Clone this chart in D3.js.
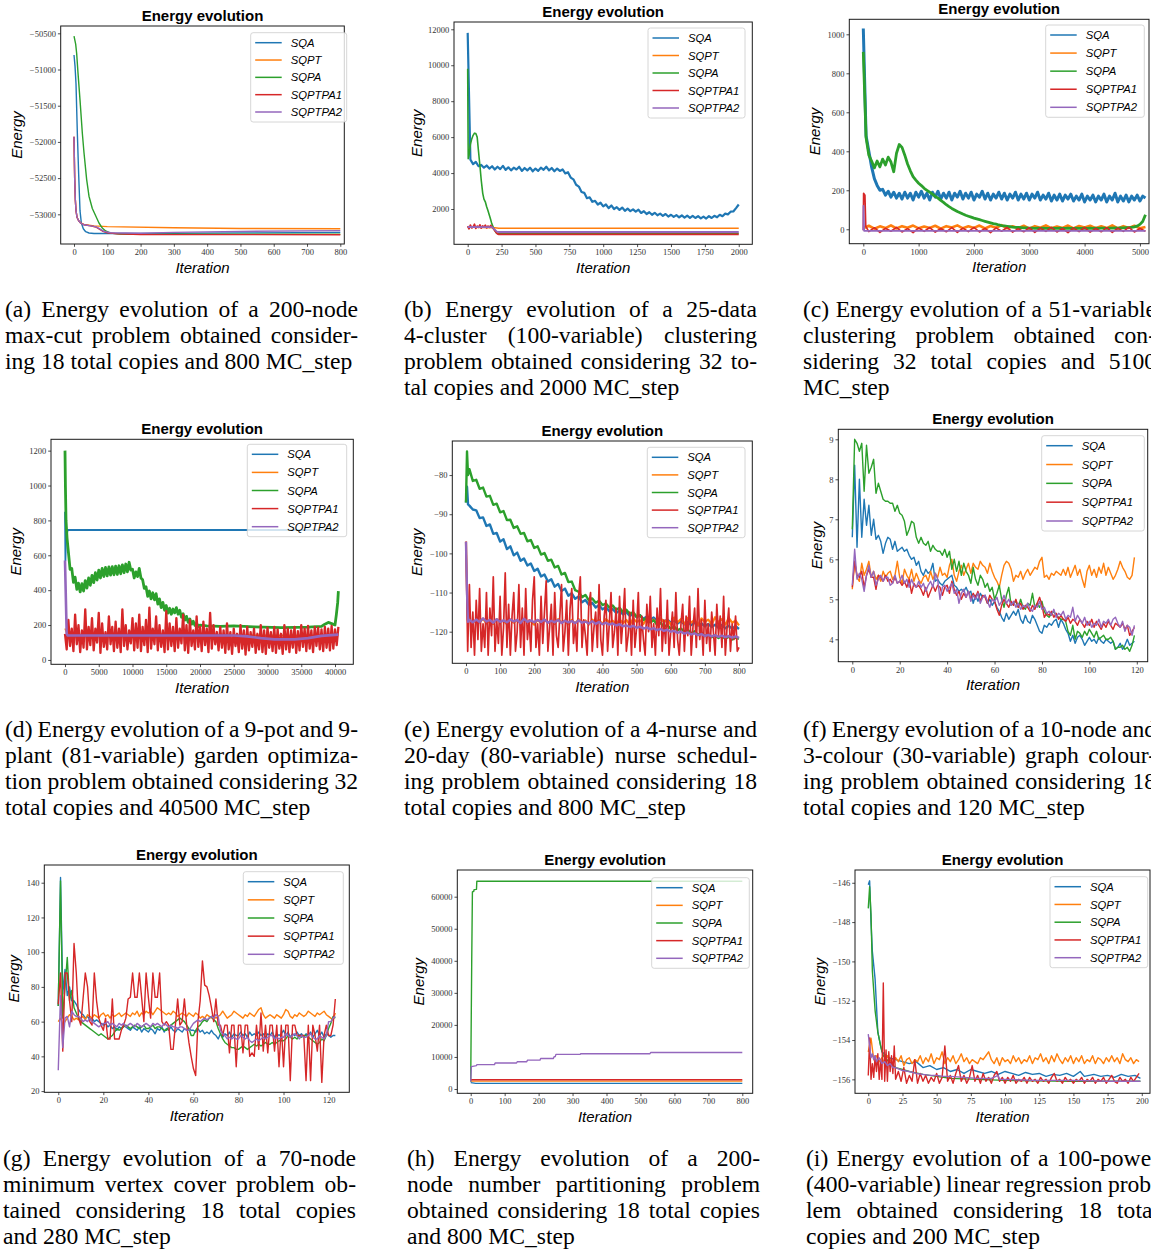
<!DOCTYPE html>
<html>
<head>
<meta charset="utf-8">
<script src="https://cdn.jsdelivr.net/npm/d3@7"></script>
<style>
  html, body { margin: 0; padding: 0; background: #fff; overflow: hidden; }
  svg { display: block; }
  .tick text { font-family: "Liberation Serif", "Times New Roman", serif; font-size: 8.5px; fill: #333; }
  .tick line { stroke: #222; stroke-width: 0.8; }
  .ttl { font-family: "Liberation Sans", Arial, sans-serif; font-weight: bold; font-size: 15px; fill: #000; }
  .lab { font-family: "Liberation Sans", Arial, sans-serif; font-style: italic; font-size: 15px; fill: #000; }
  .leg { font-family: "Liberation Sans", Arial, sans-serif; font-style: italic; font-size: 11.3px; fill: #000; }
  .cap { font-family: "Liberation Serif", "Times New Roman", serif; font-size: 23.6px; fill: #000; }
</style>
</head>
<body>
<svg id="fig" width="1151" height="1252"></svg>
<script>
const SERIES = ['SQA', 'SQPT', 'SQPA', 'SQPTPA1', 'SQPTPA2']
const COLORS = ['#1f77b4', '#ff7f0e', '#2ca02c', '#d62728', '#9467bd']

// typed values placed at their iteration: start, start+step, ...
function strided(start, step, ys) {
    return ys.map((v, i) => [start + i * step, v])
}

// ---------- (a) max-cut ----------
const aXTicks = [0, 100, 200, 300, 400, 500, 600, 700, 800]
const aYTicks = [-53000, -52500, -52000, -51500, -51000, -50500]
const aSQA = [[0,-50800],[3,-50950],[6,-51200],[10,-51880],[14,-52450],[18,-52950],[22,-53120],[28,-53200],[35,-53240],[45,-53258],[60,-53265],[200,-53265],[500,-53257],[800,-53250]]
const aSQPT = [[0,-51930],[2,-52500],[4,-52800],[6,-52950],[9,-53040],[14,-53090],[20,-53120],[30,-53140],[60,-53160],[100,-53170],[300,-53185],[500,-53195],[800,-53200]]
const aSQPA = [[0,-50540],[5,-50650],[8,-50780],[12,-51050],[18,-51420],[25,-51880],[30,-52150],[38,-52520],[45,-52750],[55,-52920],[65,-53020],[75,-53120],[85,-53190],[95,-53230],[110,-53260],[140,-53272],[200,-53276],[800,-53276]]
const aSQPTPA1 = [[0,-51930],[2,-52500],[4,-52800],[6,-52950],[9,-53040],[14,-53090],[20,-53120],[30,-53145],[50,-53160],[65,-53175],[75,-53200],[85,-53230],[100,-53255],[130,-53270],[200,-53278],[800,-53282]]
const aSQPTPA2 = [[0,-51930],[2,-52500],[4,-52800],[6,-52950],[9,-53040],[14,-53090],[20,-53120],[30,-53145],[50,-53160],[65,-53170],[75,-53195],[90,-53235],[110,-53255],[200,-53262],[300,-53250],[500,-53235],[800,-53225]]

// ---------- (b) clustering 25-data ----------
const bXTicks = [0, 250, 500, 750, 1000, 1250, 1500, 1750, 2000]
const bYTicks = [2000, 4000, 6000, 8000, 10000, 12000]
const bSQA = [11800,4750,4500,4620,4380,4450,4300,4420,4250,4380,
    4200,4350,4220,4400,4180,4320,4150,4300,4200,4350,
    4120,4280,4150,4300,4100,4250,4120,4300,4180,4350,
    4150,4280,4100,4250,4120,4200,3980,4050,3750,3650,
    3350,3250,2950,2900,2600,2650,2400,2450,2250,2350,
    2150,2250,2050,2200,2000,2100,1950,2080,1900,2020,
    1880,1980,1850,1960,1780,1880,1720,1820,1680,1790,
    1650,1740,1620,1720,1580,1680,1560,1660,1540,1640,
    1520,1630,1510,1620,1500,1600,1480,1580,1470,1600,
    1500,1620,1540,1680,1600,1740,1700,1850,1860,2050,
    2250]
const bSQPT = [[0,1000],[100,980],[200,960],[230,930],[2000,930]]
const bSQPA = [[0,9800],[2,7000],[4,4800],[10,5000],[20,5600],[30,5900],[40,6100],[50,6220],[60,6200],[70,6000],[80,5200],[91,4350],[100,3600],[111,2870],[120,2550],[130,2400],[140,2130],[150,1900],[160,1650],[170,1400],[177,1200],[190,950],[200,800],[214,650],[230,640],[2000,640]]
const bSQPTPA1 = [[0,1050],[10,900],[20,1100],[30,950],[40,1000],[50,1150],[60,920],[70,1050],[80,980],[90,1120],[100,940],[110,1060],[120,990],[130,1100],[140,950],[150,1050],[160,980],[170,1080],[180,1000],[190,900],[200,800],[210,700],[220,620],[230,590],[2000,590]]
const bSQPTPA2 = [[0,1000],[180,990],[200,850],[215,740],[230,720],[2000,720]]

// ---------- (c) clustering 51-variable ----------
const cXTicks = [0, 1000, 2000, 3000, 4000, 5000]
const cYTicks = [0, 200, 400, 600, 800, 1000]
const cSQA = [1030,480,400,320,260,225,200,205,175,195,
    165,190,160,185,155,190,160,185,150,190,
    165,195,160,185,150,190,165,195,155,185,
    160,190,150,185,165,195,155,185,160,190,
    150,180,165,195,155,185,150,180,160,190,
    155,185,150,180,160,190,150,180,155,185,
    150,180,160,190,150,175,155,185,145,175,
    150,180,145,175,155,180,145,170,150,180,
    140,170,150,175,140,170,150,180,140,170,
    150,185,140,170,145,175,140,170,150,175,
    145,170,160]
const cSQPT = [5,18,3,15,6,20,4,16,8,19,
    5,14,7,18,3,16,9,20,5,15,
    7,19,4,17,8,21,5,15,6,18,
    3,16,8,20,5,14,7,19,4,17,
    9,18,5,15,6,20,4,16,7,18,
    5,12]
const cSQPA = [910,470,380,350,315,350,320,360,330,370,
    345,295,390,435,420,380,335,300,270,252,
    236,224,210,200,190,180,169,160,148,138,
    126,116,107,99,91,85,78,72,67,62,
    57,53,49,45,41,37,33,29,26,22,
    19,17,15,13,11,10,9,8,7,7,
    6,6,5,6,5,6,5,5,6,5,
    5,6,5,5,6,5,5,6,5,5,
    6,5,6,5,6,5,6,6,5,6,
    6,7,6,7,7,8,8,10,12,16,
    25,40,75]
const cSQPTPA1Head = [[0,-5],[5,185],[30,175],[45,15]]
const cSQPTPA1 = [-12,8,-16,5,-10,10,-14,3,-17,7,
    -11,9,-15,4,-13,8,-16,6,-12,10,
    -14,5,-17,7,-10,9,-15,3,-13,8,
    -16,6,-11,10,-14,4,-17,7,-12,9,
    -15,5,-13,8,-16,6,-11,10,-14,4,
    -10]
const cSQPTPA2 = [[0,-5],[3,120],[8,60],[15,-8],[5100,-8]]

// ---------- (d) garden optimization ----------
const dXTicks = [0, 5000, 10000, 15000, 20000, 25000, 30000, 35000, 40000]
const dYTicks = [0, 200, 400, 600, 800, 1000, 1200]
const dSQA = [[0,850],[60,570],[150,700],[400,745],[40500,745]]
const dSQPT = [[0,180],[300,145],[40500,140]]
const dSQPAHead = [[0,1200],[60,1000],[150,800],[300,700]]
const dSQPABand = [620,520,525,445,475,405,440,390,437,395,
    455,412,470,428,485,443,500,458,515,470,
    525,478,530,482,533,486,535,488,538,490,
    540,494,545,500,550,505,560,515,520,470,
    505,478,525,470,460,410,420,365,395,350,
    385,345,380,320,350,300,330,285,312,268,
    296,262,292,270,300,262,285,245,265,228,
    250,215,235,205,222,198,210,192,200]
const dSQPATail = [[21000,195],[23000,193],[25000,195],[28000,190],[32000,185],[36000,188],[38000,192],[38500,205],[39000,215],[39500,208],[40000,200],[40200,260],[40400,330],[40500,395]]
const dSQPTPA1 = [150,60,230,80,180,50,260,90,200,45,
    170,70,290,60,190,85,240,55,180,100,
    270,40,210,75,160,60,250,90,190,50,
    220,70,180,45,290,80,200,60,170,95,
    240,55,210,70,260,50,190,85,230,45,
    300,65,180,90,250,55,200,75,170,45,
    280,60,210,80,190,50,240,70,180,95,
    260,55,200,40,230,80,170,60,250,75,
    190,50,220,85,180,45,270,65,200,90,
    160,55,190,70,170,40,210,60,160,35,
    180,80,150,45,200,65,170,30,190,55,
    160,75,180,40,150,60,200,45,170,35,
    185,70,160,50,190,40,175,65,150,35,
    200,60,180,45,170,70,190,40,165,55,
    200,75,180,50,195,65,170,45,190,80,
    185,60,175,50,190,70,180,55,195,65,
    175,85,190]
const dSQPTPA2 = [[0,570],[100,400],[250,150],[400,140],[25000,140],[27000,135],[29000,125],[31000,118],[34000,118],[36000,125],[38000,138],[40500,145]]

// ---------- (e) nurse scheduling ----------
const eXTicks = [0, 100, 200, 300, 400, 500, 600, 700, 800]
const eYTicks = [-120, -110, -100, -90, -80]
const eSQAHead = [[0,-87],[3,-83],[6,-87.5]]
const eSQA = [-87.8,-88.8,-89,-91,-90.8,-93,-92.6,-95,-94.8,-97,
    -96.4,-98.9,-98.2,-100.5,-99.8,-101.9,-101.3,-103.1,-102.6,-104.5,
    -103.9,-105.9,-105.4,-107.2,-106.6,-108.5,-107.8,-109.6,-109,-110.8,
    -110.2,-111.6,-111,-112.5,-111.9,-113.1,-112.6,-113.8,-113.2,-114.3,
    -113.7,-114.8,-114.2,-115.2,-114.6,-115.6,-115,-116,-115.4,-116.3,
    -115.8,-116.7,-116.1,-117,-116.4,-117.2,-116.7,-117.5,-116.9,-117.7,
    -117.1,-117.9,-117.3,-118.1,-117.5,-118.3,-117.7,-118.4,-117.9,-118.6,
    -118,-118.8,-118.2,-119,-118.3,-119.1,-118.5,-119.2,-118.6,-119.3]
const eSQPTHead = [[0,-97],[5,-117]]
const eSQPT = [-117,-117.8,-116.9,-117.6,-116.7,-117.9,-117.1,-118,-116.8,-117.5,
    -117.2,-118.1,-116.9,-117.7,-117,-118,-116.8,-117.6,-117.3,-118.2,
    -117,-117.8,-116.9,-117.7,-117.1,-118,-116.8,-117.6,-117.2,-118.1,
    -117,-117.9,-116.8,-117.6,-117.1,-118.2,-116.9,-117.7,-117,-118,
    -116.8,-117.6,-117.2,-118.1,-116.9,-117.8,-117,-118.2,-116.7,-117.5,
    -117.1,-118,-116.5,-117.6,-116.9,-118.1,-116.6,-117.5,-117,-118.2,
    -116.4,-117.6,-116.8,-118,-116.5,-117.7,-117,-118.3,-116.6,-117.5,
    -116.9,-118.1,-116.3,-117.6,-116.8,-118.2,-116.5,-117.7,-117.2,-118.4]
const eSQPAHead = [[0,-87],[3,-74],[6,-80]]
const eSQPA = [-78.5,-81.5,-81.2,-83.5,-83.2,-85.5,-85.3,-87.6,-87.3,-89.5,
    -89.2,-91.5,-91.4,-93.5,-93.1,-95,-94.8,-96.9,-96.6,-98.6,
    -98.2,-100.3,-99.9,-101.9,-101.6,-103.6,-103.2,-105.4,-105,-107.3,
    -107.2,-109.4,-109.8,-111.2,-110.6,-112,-111.5,-112.6,-112.1,-113.2,
    -112.8,-113.8,-113.3,-114.4,-113.9,-115,-114.4,-115.5,-115,-116.2,
    -115.8,-117,-116.5,-117.6,-117.1,-118.2,-117.7,-118.7,-118.3,-119.2,
    -118.7,-119.6,-119.2,-120,-119.5,-120.4,-119.9,-120.8,-120.3,-121.1,
    -120.7,-121.4,-120.9,-121.6,-121.1,-121.8,-121.3,-122,-121.5,-121.8]
const eSQPTPA1 = [-97,-125,-108,-124,-115,-126,-112,-122,-109,-125,
    -118,-124,-110,-126,-114,-121,-106,-125,-117,-123,
    -111,-126,-119,-105,-124,-113,-126,-116,-110,-125,
    -120,-108,-124,-114,-126,-109,-122,-117,-125,-112,
    -106,-124,-118,-126,-111,-123,-115,-107,-125,-119,
    -113,-126,-110,-121,-124,-116,-108,-125,-120,-112,
    -126,-114,-109,-123,-118,-125,-111,-106,-124,-117,
    -121,-126,-113,-110,-125,-119,-115,-124,-108,-122,
    -126,-116,-112,-125,-118,-110,-124,-120,-114,-126,
    -111,-123,-117,-109,-125,-121,-115,-126,-112,-124,
    -119,-110,-125,-116,-122,-126,-113,-120,-111,-124,
    -118,-126,-114,-121,-109,-125,-117,-123,-112,-126,
    -120,-115,-124,-110,-122,-126,-118,-113,-125,-116,
    -121,-111,-126,-119,-114,-124,-109,-122,-117,-126,
    -112,-123,-118,-125,-115,-120,-126,-113,-121,-116,
    -124,-111,-126,-119,-114,-125,-118,-122,-116,-125,
    -124]
const eSQPTPA2Head = [[0,-97],[3,-110],[6,-117.5]]
const eSQPTPA2 = [-117,-117.6,-116.9,-117.5,-116.6,-117.4,-117,-117.7,-116.8,-117.5,
    -117.1,-117.6,-116.9,-117.4,-117,-117.8,-116.7,-117.5,-117.1,-117.6,
    -117,-117.5,-116.9,-117.7,-117.2,-117.6,-117,-117.8,-117.2,-117.6,
    -117.3,-117.8,-117.1,-117.7,-117.4,-117.9,-117.3,-118,-117.5,-118.1,
    -117.7,-118.2,-117.9,-118.4,-118.1,-118.6,-118.4,-118.8,-118.5,-119,
    -118.7,-119.2,-118.9,-119.4,-119.1,-119.6,-119.3,-119.8,-119.5,-120,
    -119.8,-120.3,-120,-120.5,-120.2,-120.7,-120.4,-120.9,-120.6,-121.1,
    -120.8,-121.2,-120.9,-121.3,-121,-121.4,-121.1,-121.5,-121.2,-121.6]

// ---------- (f) graph colouring ----------
const fXTicks = [0, 20, 40, 60, 80, 100, 120]
const fYTicks = [4, 5, 6, 7, 8, 9]
const fSQA = [6.55,8.35,6.3,8.0,6.55,7.5,6.85,7.35,6.6,7.0,
    6.5,6.6,6.45,6.15,6.4,6.55,6.5,6.25,6.45,6.2,
    6.25,6.3,6.2,6.25,6.1,6.0,6.05,5.85,5.95,5.7,
    5.6,5.75,5.65,5.7,5.9,5.45,5.5,5.4,5.35,5.45,
    5.5,5.55,5.6,5.35,5.3,5.2,5.25,5.2,5.3,5.15,
    5.2,4.9,5.1,4.95,5.15,5.05,5.1,4.9,5.0,4.85,
    4.95,4.8,4.7,4.55,4.45,4.65,4.5,4.6,4.7,4.6,
    4.75,4.5,4.4,4.6,4.45,4.4,4.6,4.5,4.35,4.2,
    4.15,4.35,4.3,4.4,4.35,4.45,4.5,4.3,4.5,4.4,
    4.25,4.15,3.95,4.1,3.9,4.05,4.1,4.0,3.85,3.95,
    4.05,3.95,4.0,3.9,4.05,3.95,3.9,4.0,3.95,3.9,
    3.95,3.75,3.8,3.9,3.75,3.85,4.0,3.85,3.9,3.95]
const fSQPT = [5.25,5.95,5.55,5.45,5.9,5.6,5.75,5.95,5.55,5.7,
    5.5,5.6,5.45,5.7,5.55,5.65,5.7,5.5,5.6,5.95,
    5.55,5.4,5.75,5.6,5.5,5.75,5.45,5.65,5.5,5.4,
    5.55,5.6,5.45,5.7,5.5,5.65,5.55,5.8,5.6,5.65,
    5.55,5.85,6.0,5.6,5.45,5.7,5.85,5.6,5.75,5.9,
    5.65,5.9,5.8,5.75,5.95,5.85,5.8,5.65,5.9,5.7,
    5.55,5.45,5.3,5.6,5.85,5.95,5.9,5.75,5.45,5.6,
    5.55,5.7,5.5,5.65,5.75,5.6,5.7,5.8,5.75,5.95,
    6.05,5.55,5.6,5.5,5.65,5.6,5.7,5.65,5.6,5.75,
    5.6,5.8,5.55,5.7,5.85,5.6,5.75,5.5,5.3,5.7,
    5.85,5.6,5.75,5.55,5.8,5.65,5.9,5.6,5.8,5.65,
    5.5,5.6,5.75,5.95,5.8,5.7,5.55,5.5,5.6,6.05]
const fSQPA = [6.75,9.0,8.9,8.7,8.9,7.7,8.85,8.15,8.3,8.5,
    7.65,7.9,7.7,7.5,7.45,7.45,7.4,7.4,7.2,7.35,
    7.15,7.1,6.95,6.6,6.75,6.95,6.9,6.55,6.4,6.55,
    6.4,6.35,6.45,6.2,6.35,6.25,6.2,6.2,6.1,6.25,
    6.05,6.2,5.75,6.0,5.7,5.95,5.6,5.9,5.7,5.6,
    5.4,5.8,5.5,5.35,5.6,5.5,5.3,5.4,5.2,5.3,
    5.0,5.15,5.35,5.0,4.8,5.1,5.3,4.85,4.9,4.95,
    4.8,5.0,4.8,4.75,4.9,4.85,5.15,4.8,4.9,4.8,
    4.95,4.7,4.6,4.55,4.65,4.7,4.6,4.55,4.5,4.5,
    4.45,4.2,4.1,4.35,4.0,4.2,4.15,4.05,4.2,4.1,
    4.25,4.15,4.05,4.2,4.0,4.05,4.1,4.0,4.0,4.05,
    3.95,3.75,3.8,3.8,3.85,3.75,3.8,3.7,3.85,4.1]
const fSQPTPA1 = [5.3,5.95,5.6,5.55,5.7,5.3,5.6,5.75,5.55,5.55,
    5.25,5.6,5.55,5.45,5.6,5.45,5.5,5.4,5.55,5.4,
    5.45,5.35,5.45,5.3,5.5,5.15,5.4,5.3,5.35,5.25,
    5.1,5.3,5.05,5.2,5.35,5.2,5.35,5.3,5.1,5.3,
    5.35,5.15,5.45,5.25,5.1,5.2,5.0,5.15,5.05,5.2,
    5.0,5.15,5.05,5.2,4.95,5.1,5.05,4.9,5.1,5.0,
    4.95,4.75,4.6,4.85,5.0,4.9,4.8,4.95,4.85,5.0,
    4.8,4.9,4.75,4.85,4.8,4.7,4.85,4.75,4.9,5.05,
    4.85,4.55,4.65,4.6,4.7,4.55,4.65,4.5,4.6,4.5,
    4.45,4.55,4.4,4.5,4.45,4.35,4.5,4.4,4.3,4.45,
    4.35,4.5,4.3,4.45,4.35,4.25,4.4,4.3,4.45,4.35,
    4.25,4.4,4.35,4.3,4.4,4.25,4.35,4.1,4.2,4.3]
const fSQPTPA2 = [5.35,6.25,5.5,5.65,5.5,5.2,5.6,5.85,5.55,5.7,
    5.35,5.5,5.6,5.45,5.55,5.55,5.35,5.4,5.6,5.4,
    5.45,5.6,5.4,5.5,5.3,5.5,5.35,5.3,5.45,5.3,
    5.4,5.2,5.35,5.45,5.3,5.65,5.5,5.0,5.3,5.35,
    5.2,5.3,5.4,5.15,5.25,4.9,5.15,5.25,5.05,5.2,
    4.95,5.1,5.0,5.15,4.9,5.05,5.1,4.95,4.8,5.0,
    4.95,5.05,4.85,4.95,5.1,4.9,5.0,4.85,4.95,4.8,
    4.9,4.75,4.85,4.8,4.9,4.75,4.7,4.85,4.8,4.95,
    4.75,4.8,4.65,4.7,4.6,4.75,4.55,4.65,4.6,4.7,
    4.5,4.6,4.55,4.8,4.45,4.6,4.5,4.4,4.55,4.35,
    4.45,4.3,4.4,4.35,4.5,4.3,4.45,4.4,4.5,4.35,
    4.5,4.55,4.4,4.3,4.45,4.2,4.35,4.3,4.1,4.35]

// ---------- (g) minimum vertex cover ----------
const gXTicks = [0, 20, 40, 60, 80, 100, 120]
const gYTicks = [20, 40, 60, 80, 100, 120, 140]
const gSQA = [69,143,76,90,75,80,72,72,70,67,
    65,64,62,63,61,62,60,61,60,59,
    58,59,57,58,56,57,55,57,56,58,
    57,56,55,57,56,55,57,54,56,55,
    54,56,55,53,56,55,57,54,56,55,
    57,55,54,56,55,54,56,55,56,55,
    55,54,56,54,55,53,54,53,55,53,
    52,50,53,51,53,52,54,51,53,52,
    52,54,52,53,51,54,52,53,52,54,
    52,53,51,53,52,54,51,53,52,53,
    55,52,54,51,53,52,54,52,53,51,
    53,52,54,51,53,55,52,54,51,53,
    52,51,52,52]
const gSQPT = [60,62,58,60,62,64,63,61,62,61,
    62,63,61,64,63,62,64,63,62,64,
    65,63,64,62,64,63,64,65,63,64,
    65,64,63,65,64,66,63,65,64,66,
    65,66,64,66,68,67,66,65,64,65,
    64,66,65,63,64,65,64,63,65,64,
    63,65,64,62,63,62,64,63,62,63,
    62,63,64,66,64,62,63,64,66,65,
    64,63,62,64,63,65,64,63,65,67,
    68,64,62,63,64,63,62,64,63,62,
    64,67,66,63,62,64,63,65,64,63,
    64,66,65,64,63,65,64,65,66,64,
    63,62,61,65]
const gSQPA = [69,141,62,80,97,72,78,68,65,62,
    60,59,58,57,56,55,54,53,52,53,
    52,51,50,51,52,54,56,55,56,57,
    58,57,56,57,58,57,56,57,58,56,
    56,57,58,56,57,57,56,55,55,57,
    58,59,60,61,62,61,60,58,56,52,
    52,55,57,58,60,61,60,62,63,61,
    60,56,53,50,48,47,46,45,45,44,
    44,45,46,45,44,45,46,47,46,47,
    46,47,48,47,47,48,47,48,49,49,
    49,50,52,51,50,51,50,52,51,52,
    52,51,50,49,48,47,48,50,49,52,
    56,59,63,62]
const gSQPTPA1 = [70,88,43,88,88,72,60,105,88,62,
    58,73,88,80,60,58,88,72,62,58,
    55,62,50,50,73,50,50,50,55,58,
    62,73,74,88,74,74,88,74,60,88,
    74,62,88,74,74,88,60,58,60,58,
    44,44,58,73,58,60,73,58,48,40,
    33,29,60,72,95,81,80,75,68,60,
    73,58,58,52,58,58,42,58,58,34,
    58,58,42,58,58,40,42,40,58,44,
    65,43,58,42,58,58,43,58,34,58,
    34,58,58,26,58,58,52,52,52,52,
    26,58,26,58,52,43,58,25,52,58,
    52,52,58,73]
const gSQPTPA2 = [32,75,45,62,63,57,66,64,63,63,
    62,60,61,60,62,60,59,58,57,58,
    59,59,60,58,59,58,57,59,58,59,
    57,58,59,58,57,59,58,57,58,59,
    58,57,59,58,59,58,57,59,58,57,
    58,57,57,56,57,57,56,55,55,57,
    59,60,61,60,61,62,61,62,63,62,
    64,63,55,53,52,50,51,50,51,50,
    50,52,51,50,51,49,48,49,50,49,
    50,51,50,51,52,52,50,51,50,51,
    51,53,52,51,52,53,52,50,52,51,
    51,52,53,51,50,50,52,51,50,52,
    60,60,62,63]

// ---------- (h) number partitioning ----------
const hXTicks = [0, 100, 200, 300, 400, 500, 600, 700, 800]
const hYTicks = [0, 10000, 20000, 30000, 40000, 50000, 60000]
const hSQA = [[0,2000],[15,1750],[800,1750]]
const hSQPT = [[0,2450],[800,2450]]
const hSQPA = [[0,2300],[3,40000],[5,61500],[9,61700],[10,62200],[17,62300],[18,64800],[800,64800]]
const hSQPTPA1 = [[0,2900],[800,2900]]
const hSQPTPA2 = [[0,2300],[2,7000],[17,7300],[18,7600],[70,7600],[72,8100],[135,8100],[137,8500],[165,8500],[167,9000],[204,9000],[206,9500],[243,9500],[246,10100],[249,10100],[251,10800],[322,10800],[324,11000],[528,11000],[530,11400],[800,11400]]

// ---------- (i) linear regression ----------
const iXTicks = [0, 25, 50, 75, 100, 125, 150, 175, 200]
const iYTicks = [-156, -154, -152, -150, -148, -146]
const iSQA = [[0,-146.1],[1,-145.9],[2,-148],[3,-149.5],[5,-150.9],[7,-153.6],[10,-154.6],[15,-154.9],[20,-155],[25,-155.1],[30,-155.2],[35,-155.1],[40,-155.4],[45,-155.3],[50,-155.5],[55,-155.4],[60,-155.6],[65,-155.5],[70,-155.7],[75,-155.5],[80,-155.6],[85,-155.7],[90,-155.6],[95,-155.75],[100,-155.6],[105,-155.7],[110,-155.8],[115,-155.65],[120,-155.75],[125,-155.7],[130,-155.85],[135,-155.75],[140,-155.8],[145,-155.7],[150,-155.85],[155,-155.6],[158,-155.85],[165,-155.75],[170,-155.85],[175,-155.8],[180,-155.9],[185,-155.75],[190,-155.85],[195,-155.8],[199,-155.95]]
const iSQPT = [-154.6,-153.9,-155.0,-154.8,-155.1,-154.9,-155.2,-154.8,-155.0,-155.2,
    -154.9,-155.1,-154.8,-155.3,-155.0,-154.9,-155.2,-155.0,-155.1,-154.8,
    -155.2,-154.9,-155.1,-154.7,-155.2,-154.9,-155.0,-154.6,-155.2,-154.9,
    -155.1,-154.8,-155.2,-155.0,-154.7,-155.1,-154.9,-155.2,-155.0,-155.1,
    -155.2,-154.9,-155.0,-154.8,-154.6,-155.0,-155.2,-154.9,-155.3,-154.9,
    -155.1,-155.0,-155.2,-154.8,-155.1,-154.9,-155.2,-155.0,-155.1,-154.8,
    -155.2,-154.9,-155.0,-154.7,-155.1,-154.9,-155.2,-154.8,-155.1,-154.7,
    -155.0,-155.2,-154.9,-155.1,-154.8,-155.2,-154.9,-155.1,-154.8,-155.2,
    -155.0,-155.1,-154.8,-155.2,-154.9,-155.0,-155.2,-154.9,-155.1,-154.8,
    -155.1,-154.9,-155.2,-154.7,-155.0,-155.1,-154.9,-155.2,-155.0,-155.1]
const iSQPA = [[0,-147.3],[1,-146.2],[2,-147.6],[3,-150.5],[5,-152.5],[7,-153.6],[9,-154.3],[11,-154.8],[15,-155.1],[20,-155.4],[25,-155.5],[30,-155.6],[40,-155.75],[50,-155.85],[60,-155.95],[80,-156],[100,-156.05],[150,-156.1],[199,-156.1]]
const iSQPTPA1Head = [[0,-155.8],[1,-153.9],[2,-156],[3,-155.2],[4,-155.9],[5,-154.8],[6,-155.6],[7,-154.7],[8,-156],[9,-155],[10,-156],[11,-151.1],[12,-156.1],[13,-154.5],[14,-156.1],[15,-154.6],[16,-155.6],[17,-154.8],[18,-155.7],[19,-154.3],[20,-156]]
const iSQPTPA1 = [-155.6,-156.1,-155.4,-156.2,-155.8,-156.1,-155.0,-156.2,-155.7,-156.1,
    -155.8,-156.2,-155.9,-156.1,-155.7,-156.2,-155.9,-154.3,-156.1,-155.8,
    -156.2,-155.7,-155.3,-156.1,-155.8,-156.2,-155.9,-155.3,-156.1,-155.8,
    -156.2,-155.7,-156.1,-155.9,-156.2,-155.8,-155.6,-156.1,-155.9,-156.2,
    -155.9,-156.1,-155.8,-156.2,-156.0,-156.1,-155.9,-156.2,-155.9,-156.1,
    -156.0,-156.2,-155.9,-156.1,-156.0,-156.2,-155.9,-155.7,-156.1,-156.0,
    -156.2,-155.9,-156.1,-156.0,-156.2,-156.0,-156.1,-155.9,-156.2,-156.0,
    -156.1,-155.9,-156.2,-156.0,-156.1,-155.9,-156.2,-156.0,-155.8,-156.1,
    -156.2,-155.9,-156.1,-156.0,-156.2,-155.9,-156.1,-155.9,-155.7]
const iSQPTPA2 = [[0,-153.7],[1,-154.3],[2,-154.9],[3,-154.7],[4,-155],[5,-154.8],[6,-155.1],[8,-154.9],[10,-155.2],[12,-155.1],[14,-155.3],[16,-155.2],[18,-155.4],[20,-155.4],[25,-155.55],[30,-155.6],[35,-155.7],[40,-155.75],[45,-155.8],[50,-155.8],[55,-155.85],[60,-155.85],[70,-155.9],[80,-155.95],[90,-155.95],[95,-155.8],[96,-156],[100,-156],[120,-156.05],[150,-156.05],[175,-156.1],[199,-156.1]]

// ---------- captions ----------
const capA = ["(a) Energy evolution of a 200-node", "max-cut problem obtained consider-", "ing 18 total copies and 800 MC_step"]
const capB = ["(b) Energy evolution of a 25-data", "4-cluster (100-variable) clustering", "problem obtained considering 32 to-", "tal copies and 2000 MC_step"]
const capC = ["(c) Energy evolution of a 51-variable", "clustering problem obtained con-", "sidering 32 total copies and 5100", "MC_step"]
const capD = ["(d) Energy evolution of a 9-pot and 9-", "plant (81-variable) garden optimiza-", "tion problem obtained considering 32", "total copies and 40500 MC_step"]
const capE = ["(e) Energy evolution of a 4-nurse and", "20-day (80-variable) nurse schedul-", "ing problem obtained considering 18", "total copies and 800 MC_step"]
const capF = ["(f) Energy evolution of a 10-node and", "3-colour (30-variable) graph colour-", "ing problem obtained considering 18", "total copies and 120 MC_step"]
const capG = ["(g) Energy evolution of a 70-node", "minimum vertex cover problem ob-", "tained considering 18 total copies", "and 280 MC_step"]
const capH = ["(h) Energy evolution of a 200-", "node number partitioning problem", "obtained considering 18 total copies", "and 800 MC_step"]
const capI = ["(i) Energy evolution of a 100-power", "(400-variable) linear regression prob-", "lem obtained considering 18 total", "copies and 200 MC_step"]

// panel layout: frame = [left, top, right, bottom], legend = [x, y, w, h]
const panels = [
    {frame: [60.7, 26, 344.3, 244], xDom: [-40, 812], yDom: [-53410, -50399], xTicks: aXTicks, yTicks: aYTicks,
     legend: [250.7, 32.7, 96, 89.3], ylab: 44,
     series: [aSQA, aSQPT, aSQPA, aSQPTPA1, aSQPTPA2]},
    {frame: [454, 22, 752.3, 244.3], xDom: [-101, 2100], yDom: [36, 12406], xTicks: bXTicks, yTicks: bYTicks,
     legend: [648, 28, 97, 90], ylab: 37.3, widths: [2.2, 1.6, 1.6, 1.8, 1.8],
     series: [strided(0, 20, bSQA), bSQPT, bSQPA, bSQPTPA1, bSQPTPA2]},
    {frame: [849.3, 19.3, 1149, 243.7], xDom: [-253, 5164], yDom: [-74, 1077], xTicks: cXTicks, yTicks: cYTicks,
     legend: [1045.7, 25, 98.6, 92.3], ylab: 34.3, widths: [3, 2.6, 2.8, 1.6, 1.8],
     series: [strided(0, 50, cSQA), strided(0, 100, cSQPT), strided(0, 50, cSQPA),
              cSQPTPA1Head.concat(strided(100, 100, cSQPTPA1)), cSQPTPA2]},
    {frame: [51, 439.3, 353.3, 664.3], xDom: [-2074, 42711], yDom: [-25, 1265], xTicks: dXTicks, yTicks: dYTicks,
     legend: [247.3, 444.3, 99.4, 92.4], ylab: 35, widths: [1.8, 1.4, 2.8, 2.3, 2.6],
     series: [dSQA, dSQPT, dSQPAHead.concat(strided(500, 250, dSQPABand), dSQPATail), strided(0, 250, dSQPTPA1), dSQPTPA2]},
    {frame: [452.3, 441, 752.3, 663.3], xDom: [-40.1, 839], yDom: [-128.07, -71.3], xTicks: eXTicks, yTicks: eYTicks,
     legend: [647.3, 447.3, 97.7, 90.4], ylab: 35.6, widths: [2.4, 2.2, 2.4, 1.7, 2.4],
     series: [eSQAHead.concat(strided(10, 10, eSQA)), eSQPTHead.concat(strided(10, 10, eSQPT)),
              eSQPAHead.concat(strided(10, 10, eSQPA)), strided(0, 5, eSQPTPA1), eSQPTPA2Head.concat(strided(10, 10, eSQPTPA2))]},
    {frame: [838.3, 429.3, 1147.7, 661.7], xDom: [-5.9, 124.6], yDom: [3.44, 9.25], xTicks: fXTicks, yTicks: fYTicks,
     legend: [1041.7, 435.7, 102.6, 95.3], ylab: 21.7,
     series: [strided(0, 1, fSQA), strided(0, 1, fSQPT), strided(0, 1, fSQPA), strided(0, 1, fSQPTPA1), strided(0, 1, fSQPTPA2)]},
    {frame: [44.3, 865, 349.3, 1092.3], xDom: [-6.2, 129.2], yDom: [19.3, 150.2], xTicks: gXTicks, yTicks: gYTicks,
     legend: [243.3, 871.7, 100, 92.6], ylab: 31,
     series: [strided(0, 1, gSQA), strided(0, 1, gSQPT), strided(0, 1, gSQPA), strided(0, 1, gSQPTPA1), strided(0, 1, gSQPTPA2)]},
    {frame: [457.3, 870, 752.7, 1093.3], xDom: [-39.5, 830.6], yDom: [-1342, 68331], xTicks: hXTicks, yTicks: hYTicks,
     legend: [651.7, 877.7, 97.6, 90.6], ylab: 39,
     series: [hSQA, hSQPT, hSQPA, hSQPTPA1, hSQPTPA2]},
    {frame: [855, 870, 1150, 1093.3], xDom: [-9.7, 206], yDom: [-156.71, -145.35], xTicks: iXTicks, yTicks: iYTicks,
     legend: [1050, 876.7, 97.7, 91], ylab: 35,
     series: [iSQA, strided(0, 2, iSQPT), iSQPA, iSQPTPA1Head.concat(strided(22, 2, iSQPTPA1)), iSQPTPA2]}
]

const captions = [
    {x: 5, y: 316.5, lines: capA}, {x: 404, y: 316.5, lines: capB}, {x: 803, y: 316.5, lines: capC},
    {x: 5, y: 736.5, lines: capD}, {x: 404, y: 736.5, lines: capE}, {x: 803, y: 736.5, lines: capF},
    {x: 3, y: 1165.5, lines: capG}, {x: 407, y: 1165.5, lines: capH}, {x: 806, y: 1165.5, lines: capI}
]

const svg = d3.select('#fig')
const defs = svg.append('defs')
const fmt = d3.format('d')

panels.forEach((p, pi) => {
    const [x0, y0, x1, y1] = p.frame
    const x = d3.scaleLinear().domain(p.xDom).range([x0, x1])
    const y = d3.scaleLinear().domain(p.yDom).range([y1, y0])
    const g = svg.append('g')

    defs.append('clipPath').attr('id', 'clip' + pi)
        .append('rect').attr('x', x0).attr('y', y0).attr('width', x1 - x0).attr('height', y1 - y0)

    const line = d3.line().x(d => x(d[0])).y(d => y(d[1]))
    const lines = g.append('g').attr('clip-path', 'url(#clip' + pi + ')')
    p.series.forEach((s, i) => {
        lines.append('path')
            .attr('d', line(s))
            .attr('fill', 'none')
            .attr('stroke', COLORS[i])
            .attr('stroke-width', p.widths ? p.widths[i] : 1.4)
            .attr('stroke-linejoin', 'round')
    })

    // axes
    const xa = g.append('g').attr('transform', 'translate(0,' + y1 + ')')
        .call(d3.axisBottom(x).tickValues(p.xTicks).tickFormat(fmt).tickSize(2.8).tickPadding(2))
    const ya = g.append('g').attr('transform', 'translate(' + x0 + ',0)')
        .call(d3.axisLeft(y).tickValues(p.yTicks).tickFormat(fmt).tickSize(2.8).tickPadding(2))
    xa.select('.domain').remove()
    ya.select('.domain').remove()
    xa.attr('font-size', null).attr('font-family', null)
    ya.attr('font-size', null).attr('font-family', null)

    g.append('rect')
        .attr('x', x0).attr('y', y0).attr('width', x1 - x0).attr('height', y1 - y0)
        .attr('fill', 'none').attr('stroke', '#1a1a1a').attr('stroke-width', 1)

    g.append('text').attr('class', 'ttl')
        .attr('x', (x0 + x1) / 2).attr('y', y0 - 5)
        .attr('text-anchor', 'middle').text('Energy evolution')
    g.append('text').attr('class', 'lab')
        .attr('x', (x0 + x1) / 2).attr('y', y1 + 28.5)
        .attr('text-anchor', 'middle').text('Iteration')
    g.append('text').attr('class', 'lab')
        .attr('transform', 'translate(' + (x0 - p.ylab) + ',' + ((y0 + y1) / 2) + ') rotate(-90)')
        .attr('text-anchor', 'middle').attr('dy', '0.35em').text('Energy')

    // legend
    const [lx, ly, lw, lh] = p.legend
    const leg = g.append('g')
    leg.append('rect')
        .attr('x', lx).attr('y', ly).attr('width', lw).attr('height', lh).attr('rx', 2.5)
        .attr('fill', '#fff').attr('fill-opacity', 0.8)
        .attr('stroke', '#cccccc').attr('stroke-width', 0.8)
    const step = (lh - 20) / 4
    SERIES.forEach((name, i) => {
        const yy = ly + 10 + i * step
        leg.append('line')
            .attr('x1', lx + 4.5).attr('x2', lx + 31).attr('y1', yy).attr('y2', yy)
            .attr('stroke', COLORS[i]).attr('stroke-width', 1.5)
        leg.append('text').attr('class', 'leg')
            .attr('x', lx + 40).attr('y', yy).attr('dy', '0.36em').text(name)
    })
})

// captions, justified like the LaTeX source
const capW = 353
const lineH = 26.3
const capLayer = svg.append('g')
captions.forEach(c => {
    c.lines.forEach((txt, li) => {
        const yy = c.y + li * lineH
        if (li === c.lines.length - 1) {
            capLayer.append('text').attr('class', 'cap').attr('x', c.x).attr('y', yy).text(txt)
            return
        }
        const words = txt.split(' ')
        const probe = capLayer.append('text').attr('class', 'cap')
        const widths = words.map(w => {
            probe.text(w)
            return probe.node().getComputedTextLength()
        })
        probe.remove()
        const gap = (capW - d3.sum(widths)) / (words.length - 1)
        let cx = c.x
        words.forEach((w, wi) => {
            capLayer.append('text').attr('class', 'cap').attr('x', cx).attr('y', yy).text(w)
            cx += widths[wi] + gap
        })
    })
})
</script>
</body>
</html>
